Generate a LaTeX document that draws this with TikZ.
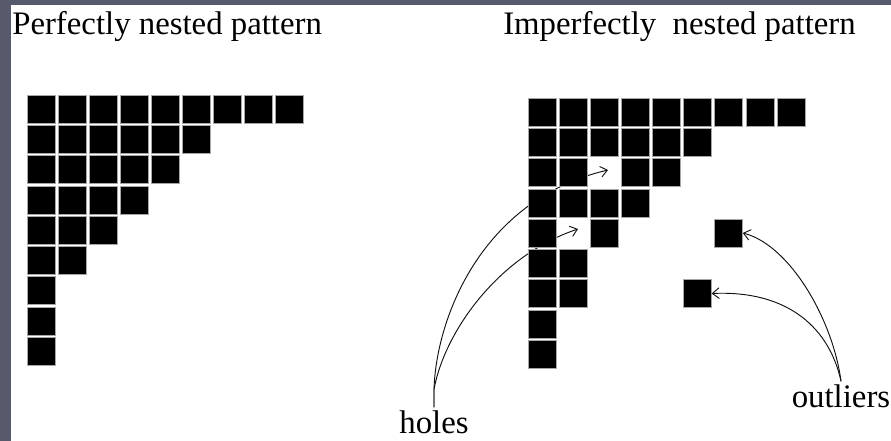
\documentclass[tikz,border=0pt]{standalone}
\usepackage{fontspec}
\setmainfont{Liberation Serif}
\usetikzlibrary{arrows.meta}
\definecolor{frame}{HTML}{565A6B}
\definecolor{ink}{HTML}{111111}

\begin{document}
\begin{tikzpicture}[
    x=0.75pt, y=-0.75pt,
    cell/.style={rectangle, fill=black, draw=black!35, line width=0.3pt,
                 minimum width=21pt, minimum height=21pt, inner sep=0pt},
    heading/.style={anchor=base west, inner sep=0pt, font=\fontsize{24.6}{28}\selectfont},
    note/.style={anchor=base, inner sep=2pt, font=\fontsize{24.6}{28}\selectfont},
    pointer/.style={-{Straight Barb[length=5pt, width=8pt]}, line width=0.7pt, ink}
  ]
    \fill[frame] (0,0) rectangle (891,441);
    \fill[white] (11,5) rectangle (891,441);
    \useasboundingbox (0,0) rectangle (891,441);

    \node[heading] (perfect) at (12,35) {Perfectly nested pattern};
    \node[heading] (imperfect) at (503,35) {Imperfectly\ \ nested pattern};
    \node[note] (holes) at (434,433) {holes};
    \node[note] (outliers) at (841,407) {outliers};

    % holes (the curves run behind the cells)
    \coordinate (hole1) at (608,170);
    \coordinate (hole2) at (578,229);
    \draw[pointer] (holes.north) -- ++(0,-18) .. controls (436,320) and (480,200) .. (hole1);
    \draw[pointer] (holes.north) -- ++(0,-18) .. controls (445,330) and (500,255) .. (hole2);

    % perfectly nested matrix
    \foreach \r/\n in {0/8,1/5,2/4,3/3,4/2,5/1,6/0,7/0,8/0}
      \foreach \c in {0,...,\n}
        \node[cell] (L-\r-\c) at ({41+31*\c},{109+30.25*\r}) {};

    % imperfectly nested matrix
    \foreach \r/\cols in {0/{0,...,8},1/{0,...,5},2/{0,1,3,4},3/{0,...,3},4/{0,2},5/{0,1},6/{0,1},7/{0},8/{0}}
      \foreach \c in \cols
        \node[cell] (R-\r-\c) at ({542+31.1*\c},{112+30.25*\r}) {};
    \node[cell] (out1) at (728.6,233) {};
    \node[cell] (out2) at (697.5,293.5) {};

    \draw[pointer] (outliers.north) .. controls (833,320) and (790,245) .. (out1.east);
    \draw[pointer] (outliers.north) .. controls (830,330) and (790,290) .. (out2.east);
\end{tikzpicture}
\end{document}
